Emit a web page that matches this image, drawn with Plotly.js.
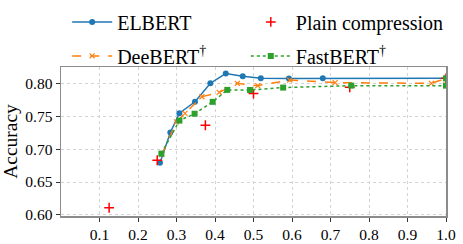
<!DOCTYPE html>
<html>
<head>
<meta charset="utf-8">
<script src="https://cdn.plot.ly/plotly-3.0.1.min.js"></script>
<style>html,body{margin:0;padding:0;background:#fff}#chart{width:463px;height:244px}</style>
</head>
<body>
<div id="chart"></div>
<script>
// Data
const elbertX = [0.257, 0.284, 0.3075, 0.348, 0.388, 0.428, 0.472, 0.519, 0.592, 0.680, 1.0];
const elbertY = [0.6793, 0.7258, 0.7553, 0.7728, 0.8012, 0.8160, 0.8120, 0.8088, 0.8085, 0.8086, 0.8086];

const plainX = [0.125, 0.25, 0.375, 0.5, 0.75, 1.0];
const plainY = [0.6106, 0.6833, 0.7369, 0.7853, 0.7950, 0.8086];

const deebertX = [0.262, 0.300, 0.322, 0.366, 0.411, 0.458, 0.511, 0.594, 0.712, 0.962, 1.0];
const deebertY = [0.6920, 0.7420, 0.7550, 0.7805, 0.7872, 0.8010, 0.7975, 0.8060, 0.8020, 0.8010, 0.8086];

const fastbertX = [0.2607, 0.3075, 0.347, 0.394, 0.432, 0.491, 0.577, 0.754, 1.0, 1.0];
const fastbertY = [0.6935, 0.7440, 0.7545, 0.7727, 0.7910, 0.7908, 0.7945, 0.7975, 0.7975, 0.8086];

const xTicks = [0.1, 0.2, 0.3, 0.4, 0.5, 0.6, 0.7, 0.8, 0.9, 1.0];
const xTickText = ['0.1','0.2','0.3','0.4','0.5','0.6','0.7','0.8','0.9','1.0'];
const yTicks = [0.60, 0.65, 0.70, 0.75, 0.80];
const yTickText = ['0.60','0.65','0.70','0.75','0.80'];

const serif = 'Liberation Serif';

const traces = [
  {x: elbertX, y: elbertY, name: 'ELBERT', type: 'scatter', mode: 'lines+markers',
   line: {color: '#1f77b4', width: 1.5}, marker: {color: '#1f77b4', size: 6, symbol: 'circle'},
   legend: 'legend', legendgroup: 'a'},
  {x: plainX, y: plainY, name: 'Plain compression', type: 'scatter', mode: 'markers',
   marker: {color: '#ff0000', size: 7, symbol: 'cross-thin', line: {color: '#ff0000', width: 1.5}},
   legend: 'legend2', legendgroup: 'b'},
  {x: deebertX, y: deebertY, name: 'DeeBERT<sup>†</sup>', type: 'scatter', mode: 'lines+markers',
   line: {color: '#ff7f0e', width: 1.5, dash: 'dash'},
   marker: {color: '#ff7f0e', size: 5, symbol: 'x-thin', line: {color: '#ff7f0e', width: 1.2}},
   legend: 'legend', legendgroup: 'c'},
  {x: fastbertX, y: fastbertY, name: 'FastBERT<sup>†</sup>', type: 'scatter', mode: 'lines+markers',
   line: {color: '#2ca02c', width: 1.5, dash: 'dot'},
   marker: {color: '#2ca02c', size: 6, symbol: 'square'},
   legend: 'legend2', legendgroup: 'd'}
];

const axisCommon = {
  showline: true, mirror: true, linecolor: '#8c8c8c', linewidth: 1.5,
  showgrid: true, gridcolor: '#d3d3d3', griddash: 'dot', gridwidth: 1,
  ticks: 'outside', ticklen: 4, tickcolor: '#333', tickwidth: 1,
  zeroline: false, tickfont: {family: serif, size: 15.5, color: '#000'}
};

const layout = {
  width: 463, height: 244,
  margin: {l: 61, r: 17, t: 67, b: 28, autoexpand: false},
  paper_bgcolor: '#fff', plot_bgcolor: '#fff',
  font: {family: serif, color: '#000'},
  showlegend: true,
  xaxis: Object.assign({}, axisCommon, {range: [0, 1.0], tickvals: xTicks, ticktext: xTickText, automargin: false}),
  yaxis: Object.assign({}, axisCommon, {range: [0.598, 0.826], tickvals: yTicks, ticktext: yTickText, automargin: false,
    title: {text: 'Accuracy', font: {family: serif, size: 19.5}, standoff: 6}}),
  legend: {x: 0.016, xref: 'paper', xanchor: 'left', y: 0.99, yref: 'container', yanchor: 'top',
    orientation: 'v', font: {family: serif, size: 20}, itemwidth: 40, tracegroupgap: 5,
    bgcolor: 'rgba(0,0,0,0)', borderwidth: 0},
  legend2: {x: 0.48, xref: 'paper', xanchor: 'left', y: 0.99, yref: 'container', yanchor: 'top',
    orientation: 'v', font: {family: serif, size: 20}, itemwidth: 40, tracegroupgap: 5,
    bgcolor: 'rgba(0,0,0,0)', borderwidth: 0}
};

Plotly.newPlot('chart', traces, layout, {displayModeBar: false, staticPlot: true});
</script>
</body>
</html>
